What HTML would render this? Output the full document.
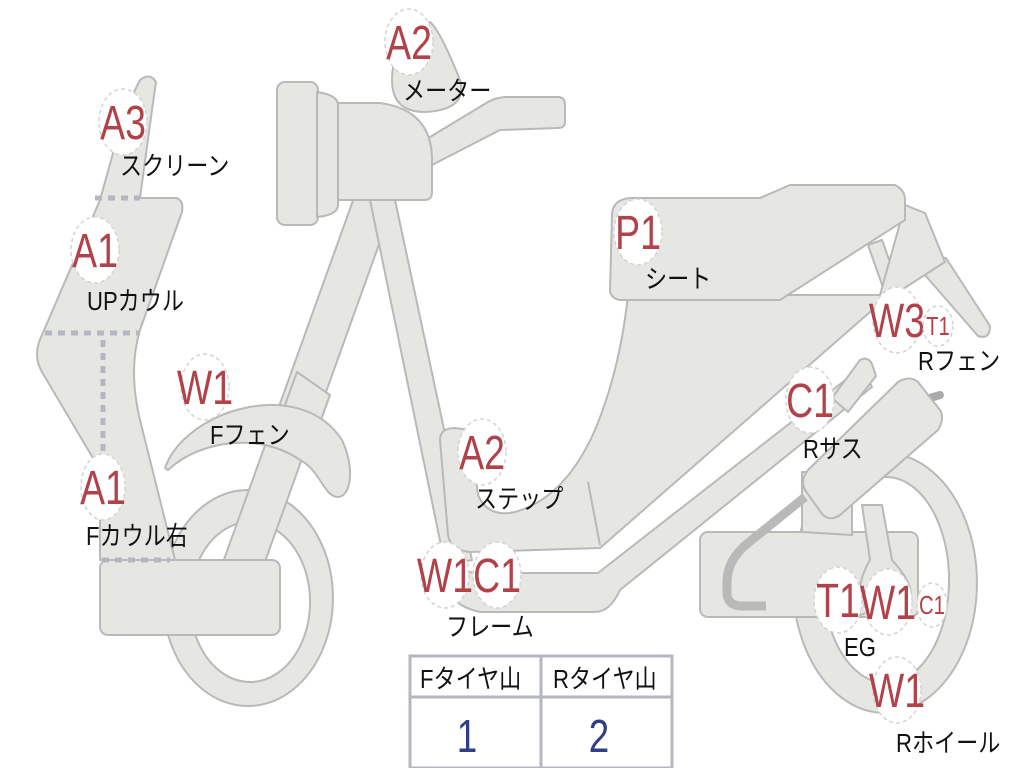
<!DOCTYPE html>
<html><head><meta charset="utf-8"><style>
html,body{margin:0;padding:0;background:#fff;}
svg{display:block;}
.p{fill:#e6e6e3;stroke:#b9b9b9;stroke-width:2;stroke-linejoin:round;}
.c{fill:#fff;stroke:#d4d4d4;stroke-width:1.5;stroke-dasharray:4 3;}
.r{fill:#b2424a;font-family:"Liberation Sans",sans-serif;font-size:48px;text-anchor:middle;}
.rs{fill:#b2424a;font-family:"Liberation Sans",sans-serif;font-size:26px;text-anchor:middle;}
.k{fill:#111;font-family:"Liberation Sans","Noto Sans CJK JP",sans-serif;font-size:26px;}
.d{stroke:#b4b7bf;stroke-width:5;stroke-dasharray:7 6;fill:none;}
</style></head><body>
<svg width="1024" height="768" viewBox="0 0 1024 768" xmlns="http://www.w3.org/2000/svg">
<!-- front wheel -->
<path class="p" fill-rule="evenodd" d="M248,490 A85,108 0 1 1 247.9,490 Z M250,522 A60,80 0 1 0 250.1,522 Z"/>
<!-- fork -->
<path class="p" d="M355,195 L395,200 L262,570 L222,565 Z"/>
<path class="p" d="M297,372 L330,395 L318,428 L285,405 Z"/>
<!-- frame down tube -->
<path class="p" d="M370,200 L395,200 L472,560 L445,565 Z"/>
<!-- fender -->
<path class="p" d="M165,468 C185,410 300,375 342,440 C356,470 350,497 338,497 C324,497 320,470 300,460 C260,432 200,440 168,470 Z"/>
<!-- front cowl -->
<path class="p" d="M140,80 Q150,72 156,82 L152,110 L140,198 L176,198 Q184,200 182,212 L140,330 Q128,370 140,420 L175,560 L100,560 L100,470 L42,372 Q32,355 42,335 L100,200 L125,110 Z"/>
<rect class="p" x="100" y="560" width="180" height="75" rx="8"/>
<line class="d" x1="95" y1="198" x2="140" y2="198"/>
<line class="d" x1="45" y1="333" x2="140" y2="333"/>
<line class="d" x1="103" y1="340" x2="103" y2="470"/>
<line class="d" x1="102" y1="560" x2="170" y2="560"/>
<!-- handlebar -->
<path class="p" d="M425,140 L488,102 Q495,98 505,97 L558,97 Q565,97 565,105 L565,122 Q565,128 558,128 L500,130 L432,165 Z"/>
<!-- meter -->
<path class="p" d="M430,22 Q440,30 460,80 Q468,110 425,112 Q392,112 392,80 Q392,40 430,22 Z"/>
<!-- headlight -->
<rect class="p" x="277" y="82" width="41" height="143" rx="8"/>
<path class="p" d="M317,92 Q338,95 338,105 L338,205 Q338,215 317,217 Z"/>
<path class="p" d="M338,103 L380,103 Q432,110 432,160 L432,192 Q432,200 424,200 L338,200 Z"/>
<!-- rear wheel -->
<path class="p" fill-rule="evenodd" d="M885,453 A92,130 0 1 1 884.9,453 Z M886,477 A63,103 0 1 0 886.1,477 Z"/>
<!-- rear fender blade & strut -->
<path class="p" d="M922,255 L946,258 L990,326 Q990,340 978,336 L925,275 Z"/>
<path class="p" d="M868,245 L882,240 L900,290 L886,296 Z"/>
<!-- body -->
<path class="p" d="M628,295 L880,295 L905,205 L925,213 L945,262 L878,305 L600,548 L470,552 Q450,550 448,535 L440,440 Q440,428 455,428 L470,430 L478,495 Q488,518 515,512 Q565,498 595,430 Q620,370 628,295 Z"/>
<line x1="588" y1="482" x2="600" y2="545" stroke="#b9b9b9" stroke-width="2"/>
<!-- seat -->
<path class="p" d="M612,215 Q612,200 630,198 L760,198 L790,185 L895,185 Q905,190 905,200 L905,220 L780,300 L620,300 Q610,298 610,290 Z"/>
<!-- frame lower -->
<path class="p" d="M445,560 Q455,572 480,573 L598,573 L862,367 L872,387 L620,590 Q610,612 595,612 L480,612 Q452,606 445,585 Z"/>
<path class="p" d="M832,398 L860,360 Q868,356 872,364 L876,376 L848,412 Z"/>
<!-- engine -->
<rect class="p" x="700" y="532" width="218" height="85" rx="8"/>
<path class="p" d="M802,472 L845,472 L852,480 L852,535 L802,532 Z"/>
<path d="M805,497 L748,543 Q727,560 727,582 L727,595 Q729,606 742,606 L766,606" fill="none" stroke="#b9b9b9" stroke-width="9" stroke-linecap="butt"/>
<!-- swingarm -->
<path class="p" d="M862,505 L882,505 L892,560 Q915,585 910,600 L860,615 Q855,585 870,560 Z"/>
<!-- shock -->
<line x1="930" y1="398" x2="940" y2="395" stroke="#aaa" stroke-width="8" stroke-linecap="round"/>
<path class="p" d="M808,470 L898,382 Q910,375 918,382 L940,410 Q945,418 938,430 L840,515 Q830,522 822,514 L805,490 Q800,480 808,470 Z"/>
<!-- circles -->
<g>
<ellipse class="c" cx="409" cy="42" rx="24" ry="33"/><text class="r" transform="translate(409,59) scale(0.78,1)">A2</text>
<ellipse class="c" cx="123" cy="122" rx="24" ry="33"/><text class="r" transform="translate(123,139) scale(0.78,1)">A3</text>
<ellipse class="c" cx="95" cy="250" rx="24" ry="33"/><text class="r" transform="translate(95,267) scale(0.78,1)">A1</text>
<ellipse class="c" cx="205" cy="387" rx="24" ry="33"/><text class="r" transform="translate(205,404) scale(0.78,1)">W1</text>
<ellipse class="c" cx="103" cy="487" rx="22" ry="33"/><text class="r" transform="translate(103,504) scale(0.78,1)">A1</text>
<ellipse class="c" cx="482" cy="452" rx="24" ry="33"/><text class="r" transform="translate(482,469) scale(0.78,1)">A2</text>
<ellipse class="c" cx="445" cy="575" rx="24" ry="33"/><text class="r" transform="translate(445,592) scale(0.78,1)">W1</text>
<ellipse class="c" cx="497" cy="575" rx="24" ry="33"/><text class="r" transform="translate(497,592) scale(0.78,1)">C1</text>
<ellipse class="c" cx="638" cy="232" rx="24" ry="33"/><text class="r" transform="translate(638,249) scale(0.78,1)">P1</text>
<ellipse class="c" cx="897" cy="320" rx="24" ry="33"/><text class="r" transform="translate(897,337) scale(0.78,1)">W3</text>
<ellipse class="c" cx="938" cy="326" rx="15" ry="20"/><text class="rs" transform="translate(938,335) scale(0.78,1)">T1</text>
<ellipse class="c" cx="810" cy="400" rx="24" ry="33"/><text class="r" transform="translate(810,417) scale(0.78,1)">C1</text>
<ellipse class="c" cx="838" cy="600" rx="24" ry="33"/><text class="r" transform="translate(838,617) scale(0.78,1)">T1</text>
<ellipse class="c" cx="888" cy="602" rx="24" ry="33"/><text class="r" transform="translate(888,619) scale(0.78,1)">W1</text>
<ellipse class="c" cx="932" cy="605" rx="15" ry="22"/><text class="rs" transform="translate(932,614) scale(0.78,1)">C1</text>
<ellipse class="c" cx="897" cy="690" rx="24" ry="33"/><text class="r" transform="translate(897,707) scale(0.78,1)">W1</text>
</g>
<!-- labels -->
<g>
<text class="k" transform="translate(403,100) scale(0.85,1)">メーター</text>
<text class="k" transform="translate(120,175) scale(0.85,1)">スクリーン</text>
<text class="k" transform="translate(87,310) scale(0.85,1)">UPカウル</text>
<text class="k" transform="translate(210,444) scale(0.85,1)">Fフェン</text>
<text class="k" transform="translate(86,545) scale(0.85,1)">Fカウル右</text>
<text class="k" transform="translate(475,508) scale(0.85,1)">ステップ</text>
<text class="k" transform="translate(446,636) scale(0.85,1)">フレーム</text>
<text class="k" transform="translate(645,288) scale(0.85,1)">シート</text>
<text class="k" transform="translate(918,370) scale(0.85,1)">Rフェン</text>
<text class="k" transform="translate(803,458) scale(0.85,1)">Rサス</text>
<text class="k" transform="translate(844,656) scale(0.85,1)">EG</text>
<text class="k" transform="translate(896,752) scale(0.85,1)">Rホイール</text>
</g>
<!-- table -->
<rect x="410" y="656" width="262" height="112" fill="#fff" stroke="#b4b7bf" stroke-width="3"/>
<line x1="410" y1="697" x2="672" y2="697" stroke="#b4b7bf" stroke-width="3"/>
<line x1="541" y1="656" x2="541" y2="768" stroke="#b4b7bf" stroke-width="3"/>
<text class="k" transform="translate(420,688) scale(0.85,1)">Fタイヤ山</text>
<text class="k" transform="translate(553,688) scale(0.85,1)">Rタイヤ山</text>
<text transform="translate(467,752) scale(0.8,1)" text-anchor="middle" font-family="Liberation Sans,sans-serif" font-size="46" fill="#2e3f86">1</text>
<text transform="translate(599,752) scale(0.8,1)" text-anchor="middle" font-family="Liberation Sans,sans-serif" font-size="46" fill="#2e3f86">2</text>
</svg>
</body></html>
